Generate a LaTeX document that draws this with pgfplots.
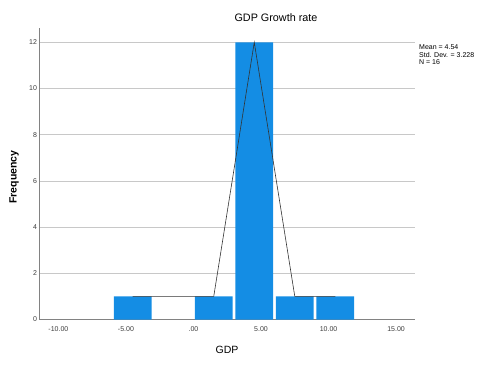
\documentclass[border=0pt]{standalone}
\usepackage{pgfplots}
\pgfplotsset{compat=1.18}
\usepackage{fontspec}
\setmainfont{Liberation Sans}
\definecolor{spssblue}{RGB}{20,141,228}
\definecolor{gridgray}{RGB}{200,200,200}
\definecolor{axisgray}{RGB}{130,130,130}
\definecolor{ticktext}{RGB}{60,60,60}

\begin{document}
\begin{tikzpicture}
  \useasboundingbox (0,0) rectangle (480pt,365pt);
  \begin{axis}[
      at={(39.5pt,45.5pt)}, anchor=south west,
      scale only axis, width=375.5pt, height=291.5pt,
      xmin=-11.4, xmax=16.4, ymin=0, ymax=12.62,
      axis x line*=bottom, axis y line*=left,
      axis line style={axisgray, line width=0.8pt, -},
      xtick={-10,-5,0,5,10,15},
      xticklabels={-10.00,-5.00,.00,5.00,10.00,15.00},
      ytick={0,2,4,6,8,10,12},
      major tick length=0pt,
      ymajorgrids, grid style={gridgray, line width=0.8pt},
      tick label style={font=\fontsize{7}{8}\selectfont, text=ticktext},
      xticklabel style={yshift=-4pt},
      yticklabel style={xshift=1pt},
      /pgf/number format/assume math mode=true,
      clip=false,
    ]
    \addplot[ybar, bar width=2.8, fill=spssblue, draw=none, bar shift=0pt]
      coordinates {(-4.5,1) (1.5,1) (4.5,12) (7.5,1) (10.5,1)};
    \addplot[black!80, line width=0.6pt, mark=none]
      coordinates {(-4.5,1) (1.5,1) (4.5,12) (7.5,1) (10.5,1)};
  \end{axis}
  \node[font=\fontsize{10.8}{12}\selectfont] at (276pt,347pt) {GDP Growth rate};
  \node[font=\fontsize{10.5}{12}\selectfont\bfseries, rotate=90] at (14pt,188pt) {Frequency};
  \node[font=\fontsize{10.5}{12}\selectfont] at (227pt,15pt) {GDP};
  \node[font=\fontsize{7}{7.7}\selectfont, anchor=north west, align=left, inner sep=0pt]
    at (419pt,320.5pt) {Mean = 4.54\\Std. Dev. = 3.228\\N = 16};
\end{tikzpicture}
\end{document}
